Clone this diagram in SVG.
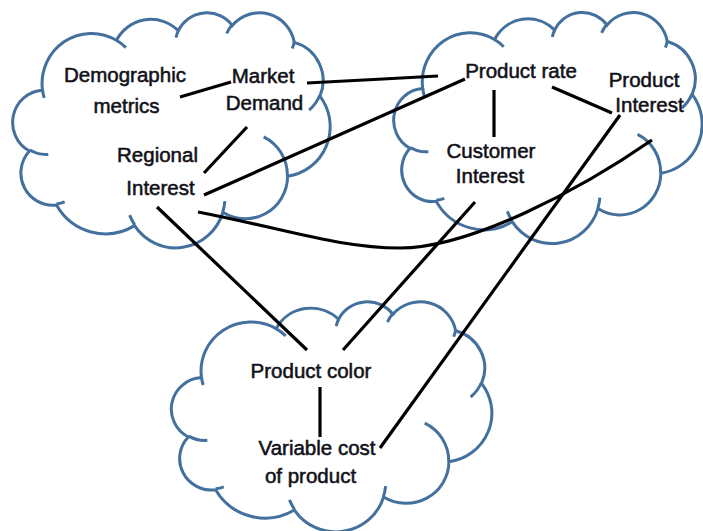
<svg xmlns="http://www.w3.org/2000/svg" xmlns:xlink="http://www.w3.org/1999/xlink" width="703" height="531" viewBox="0 0 703 531">
  <style>
    .cloud path { fill: none; stroke: #44709d; stroke-width: 3; vector-effect: non-scaling-stroke; stroke-linecap: butt; }
    .cloud path.outline { fill: #ffffff; }
    .label { font-family: "Liberation Sans", Arial, sans-serif; font-size: 20.5px; fill: #111118; stroke: #111118; stroke-width: 0.55px; text-anchor: middle; }
    .link { fill: none; stroke: #000000; stroke-width: 3.2; stroke-linecap: butt; stroke-linejoin: round; }
  </style>
  <defs>
    <!-- Cloud callout outline in a 43200 x 43200 unit box, plus its inner bump arcs -->
    <g id="cloud-shape" class="cloud">
      <path class="outline" d="M3900,14370 A6753,9190 0 0 1 14004,5201 A5333,7267 0 0 1 22458,3434 A4365,5945 0 0 1 29836,2484 A4857,6595 0 0 1 38321,5579 A5333,7273 0 0 1 41821,15463 A6775,9220 0 0 1 37406,30205 A5785,7867 0 0 1 28558,36815 A6752,9215 0 0 1 16484,39270 A7720,10543 0 0 1 5808,35474 A4360,5918 0 0 1 2116,25553 A4345,5945 0 0 1 3900,14370 Z"/>
      <path d="M4693,26177 A4345,5945 0 0 1 2159,25380 M6928,34899 A4360,5918 0 0 1 5820,35281 M16478,39090 A6752,9215 0 0 1 15809,37346 M28827,34751 A6752,9215 0 0 1 28560,36660 M34129,22954 A5785,7867 0 0 1 37380,30090 M41798,15354 A5333,7273 0 0 1 40351,18029 M38324,5426 A4857,6595 0 0 1 38051,6715 M29078,3952 A4857,6595 0 0 1 29819,2341 M22141,4720 A4365,5945 0 0 1 22500,3330 M14000,5192 A6753,9190 0 0 1 15304,6546 M4127,15789 A6753,9190 0 0 1 3900,14371"/>
    </g>
  </defs>

  <!-- Cloud containers -->
  <g id="clouds">
    <use id="cloud-market" xlink:href="#cloud-shape" transform="translate(14,12) scale(0.0073148,0.0054398)"/>
    <use id="cloud-product" xlink:href="#cloud-shape" transform="translate(395,11.7) scale(0.0071065,0.0053472)"/>
    <use id="cloud-cost" xlink:href="#cloud-shape" transform="translate(172.7,301) scale(0.0073843,0.0053241)"/>
  </g>

  <!-- Connectors -->
  <g id="connectors">
    <path class="link" d="M180,97 L231,82"/>
    <path class="link" d="M307,83 L383,79 L438,76"/>
    <path class="link" d="M247,127 L204,173"/>
    <path class="link" d="M204,195 L465,79"/>
    <path class="link" d="M198,212 C290,230 340,248 400,248 C470,248 580,190 652,140"/>
    <path class="link" d="M157,207 L307,350"/>
    <path class="link" d="M475,202 L343,350"/>
    <path class="link" d="M620,115 L380,448"/>
    <path class="link" d="M494,90 L494,137"/>
    <path class="link" d="M552,87 L612,113"/>
    <path class="link" d="M320,387 L320,437"/>
  </g>

  <!-- Concept nodes -->
  <g id="demographic-metrics">
    <text class="label" x="125" y="82">Demographic</text>
    <text class="label" x="126.5" y="113">metrics</text>
  </g>
  <g id="market-demand">
    <text class="label" x="263" y="83">Market</text>
    <text class="label" x="264.5" y="110">Demand</text>
  </g>
  <g id="regional-interest">
    <text class="label" x="157.5" y="162">Regional</text>
    <text class="label" x="160.5" y="195">Interest</text>
  </g>
  <g id="product-rate">
    <text class="label" x="521" y="78">Product rate</text>
  </g>
  <g id="product-interest">
    <text class="label" x="644" y="87">Product</text>
    <text class="label" x="649.5" y="112">Interest</text>
  </g>
  <g id="customer-interest">
    <text class="label" x="491" y="158">Customer</text>
    <text class="label" x="490" y="183">Interest</text>
  </g>
  <g id="product-color">
    <text class="label" x="311" y="378">Product color</text>
  </g>
  <g id="variable-cost">
    <text class="label" x="317" y="455">Variable cost</text>
    <text class="label" x="310.5" y="483">of product</text>
  </g>
</svg>
